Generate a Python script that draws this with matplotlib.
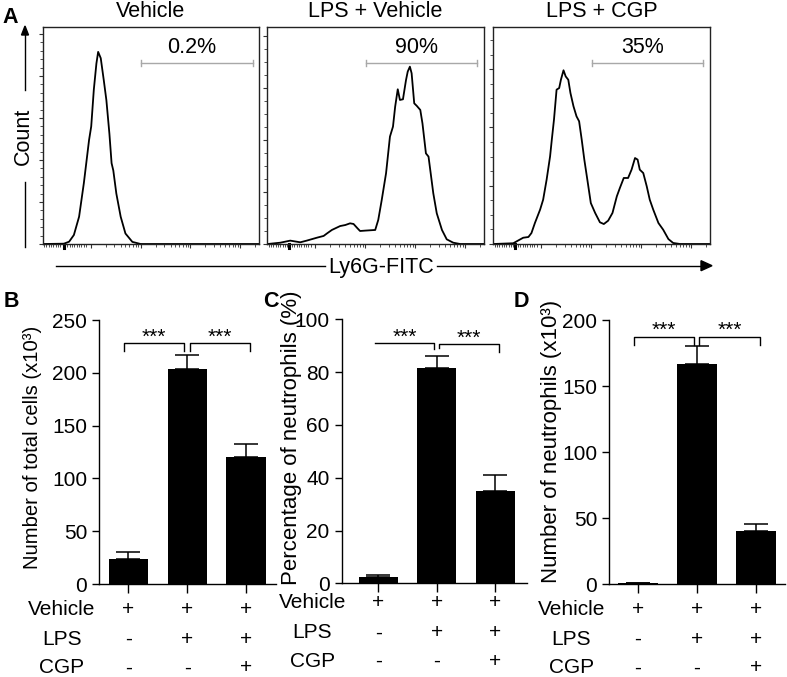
import numpy as np
import matplotlib
matplotlib.use("Agg")
import matplotlib.pyplot as plt
from matplotlib.lines import Line2D
from matplotlib.patches import Polygon
from matplotlib.transforms import blended_transform_factory

plt.rcParams['font.family'] = ['Liberation Sans', 'DejaVu Sans']
plt.rcParams['font.size'] = 15

# --- Flow histograms (x: log fluorescence units, y: events) ---
HIST_TITLES = ["Vehicle", "LPS + Vehicle", "LPS + CGP"]
GATE_LABELS = ["0.2%", "90%", "35%"]
GATE_RANGE = (2.27, 4.85)

VEH_X = [0.03, 0.49, 0.61, 0.72, 0.84, 0.95, 1.07, 1.12, 1.18, 1.24, 1.28, 1.34,
         1.41, 1.47, 1.54, 1.59, 1.63, 1.70, 1.80, 1.91, 2.07, 2.26, 5.0]
VEH_Y = [0, 0.3, 2.2, 8.6, 26, 58, 99, 112, 147, 172, 183, 177,
         156, 137, 105, 77, 70, 48, 26, 10, 2, 0, 0]

LPS_X = [0.01, 0.30, 0.53, 0.76, 0.91, 1.15, 1.30, 1.38, 1.49, 1.68, 1.80, 1.91,
         1.99, 2.08, 2.14, 2.26, 2.49, 2.56, 2.64, 2.74, 2.83, 2.90, 2.95, 3.01,
         3.06, 3.13, 3.20, 3.24, 3.29, 3.33, 3.39, 3.45, 3.53, 3.58, 3.66, 3.72,
         3.77, 3.83, 3.91, 4.03, 4.14, 4.29, 4.45, 5.0]
LPS_Y = [0, 1.0, 2.6, 1.3, 2.6, 4.9, 6.2, 8.2, 10.8, 13.8, 14.6, 15.9,
         15.4, 12.1, 10.0, 10.3, 10.8, 18.5, 33.8, 54.4, 82.6, 90.3, 105.6, 119,
         110.8, 111.3, 126, 132.6, 136.4, 131.3, 108.2, 106.2, 103.1, 92.8, 69.7, 67.2,
         54.4, 39, 23.6, 10.8, 3.6, 1.0, 0, 0]

CGP_X = [0, 0.46, 0.58, 0.69, 0.81, 0.88, 0.96, 1.08, 1.15, 1.23, 1.31, 1.35,
         1.40, 1.46, 1.52, 1.56, 1.62, 1.67, 1.73, 1.78, 1.85, 1.92, 1.98, 2.04,
         2.10, 2.17, 2.25, 2.35, 2.46, 2.55, 2.65, 2.75, 2.85, 2.92, 3.01, 3.11,
         3.19, 3.27, 3.33, 3.38, 3.46, 3.54, 3.61, 3.69, 3.81, 3.92, 4.04, 4.15,
         4.31, 5.0]
CGP_Y = [0, 0.5, 2.5, 4.3, 4.8, 7.5, 14.4, 23.6, 30.4, 44.1, 60.1, 71.6,
         85.3, 105.9, 107, 112.7, 119.2, 115, 112.7, 103.6, 94.5, 87.6, 84.2, 71.6,
         57.9, 44.1, 28.1, 21.3, 14.9, 13.7, 16, 21.3, 32.7, 38.4, 45.3, 45.3,
         51, 59, 57.9, 51, 48.7, 39.6, 30.4, 23.6, 14.4, 9.8, 3.4, 0.7,
         0, 0]

# --- Bar charts ---
TOTAL_CELLS = [24, 204, 120]
TOTAL_CELLS_ERR = [6, 13, 13]
NEUT_PCT = [2.5, 81.7, 35.1]
NEUT_PCT_ERR = [0.6, 4.5, 6]
NEUT_NUM = [0.6, 166.5, 40.5]
NEUT_NUM_ERR = [0.2, 13.5, 5]

ROW_LABELS = ["Vehicle", "LPS", "CGP"]
ROW_SIGNS = [["+", "+", "+"],
             ["-", "+", "+"],
             ["-", "-", "+"]]

W, H = 787, 677
fig = plt.figure(figsize=(W / 100, H / 100), dpi=100)


def fx(px):
    return px / W


def fy(py):
    return 1 - py / H


def px_axes(left, top, right, bottom):
    return fig.add_axes([fx(left), fy(bottom), (right - left) / W, (bottom - top) / H])


# ---------------- Panel A: histograms ----------------
hist_boxes = [(42.7, 27, 259.3, 244), (267.3, 27, 484, 244), (493.3, 27, 710, 244)]
hist_ymax = [206.7, 166.9, 148.9]
hist_minor = [8, 10, 10]
hist_data = [(VEH_X, VEH_Y), (LPS_X, LPS_Y), (CGP_X, CGP_Y)]

dec0, dec_w = 1.106, 1.152
x_major = [dec0 + k * dec_w for k in range(4)]
x_minor = list(np.arange(0.03, 1.02, 0.054))
for k in range(4):
    for m in range(2, 10):
        p = dec0 + (k + np.log10(m)) * dec_w
        if p < 5:
            x_minor.append(p)

for i, ax in enumerate(px_axes(*b) for b in hist_boxes):
    xs, ys = hist_data[i]
    ax.plot(xs, ys, color='black', lw=1.3)
    ax.set_xlim(0, 5)
    ax.set_ylim(0, hist_ymax[i])
    ax.set_yticks(np.arange(0, hist_ymax[i], 40))
    ax.set_yticks(np.arange(0, hist_ymax[i], hist_minor[i]), minor=True)
    ax.set_xticks(x_major)
    ax.set_xticks(x_minor, minor=True)
    ax.tick_params(which='major', length=3, width=0.8, direction='out',
                   labelleft=False, labelbottom=False, color='#333333')
    ax.tick_params(which='minor', length=2, width=0.6, direction='out', color='#333333')
    for s in ax.spines.values():
        s.set_linewidth(1.0)
        s.set_color('#222222')
    trans = blended_transform_factory(ax.transData, ax.transAxes)
    # zero marker on the axis
    ax.plot([0.5, 0.5], [0, -0.018], transform=trans, color='black', lw=2.2, clip_on=False)
    # gate
    g0, g1 = GATE_RANGE
    ax.plot([g0, g1], [0.834, 0.834], transform=trans, color='#a8a8a8', lw=1.0)
    for g in (g0, g1):
        ax.plot([g, g], [0.822, 0.846], transform=trans, color='#a8a8a8', lw=1.0)
    ax.text((g0 + g1) / 2 - 0.12, 0.882, GATE_LABELS[i], transform=trans,
            ha='center', va='baseline', fontsize=15.5)
    fig.text(fx((hist_boxes[i][0] + hist_boxes[i][2]) / 2), fy(16.7), HIST_TITLES[i],
             ha='center', va='baseline', fontsize=15.5)

# Count arrow
fig.add_artist(Line2D([fx(25), fx(25)], [fy(247), fy(182)], color='black', lw=1.0))
fig.add_artist(Line2D([fx(25), fx(25)], [fy(90), fy(34)], color='black', lw=1.0))
fig.add_artist(Polygon([(fx(25), fy(26)), (fx(21.5), fy(35)), (fx(28.5), fy(35))],
                       closed=True, color='black', transform=fig.transFigure))
fig.text(fx(23.5), fy(136), "Count", rotation=90, ha='center', va='center', fontsize=15.5)

# Ly6G-FITC arrow
fig.add_artist(Line2D([fx(56), fx(325)], [fy(265.7), fy(265.7)], color='black', lw=1.0))
fig.add_artist(Line2D([fx(437), fx(702)], [fy(265.7), fy(265.7)], color='black', lw=1.0))
fig.add_artist(Polygon([(fx(712), fy(265.7)), (fx(701), fy(260.7)), (fx(701), fy(270.7))],
                       closed=True, color='black', transform=fig.transFigure))
fig.text(fx(381), fy(272.5), "Ly6G-FITC", ha='center', va='baseline', fontsize=15.5)

# ---------------- Panels B-D: bar charts ----------------
bar_panels = [
    dict(box=(99, 320, 275.5, 584), xlim=(-0.5, 2.5), ylim=250, step=50,
         vals=TOTAL_CELLS, errs=TOTAL_CELLS_ERR,
         ylabel="Number of total cells (x10³)", ylabel_pos=(33, 447.5), ylabel_size=14.6,
         brackets=[(-0.07, 0.95, 228, 220.7, 220.7), (1.04, 2.07, 228, 220.7, 220.7)],
         rows=(615, 645, 673.3)),
    dict(box=(341.5, 319.3, 527, 583.3), xlim=(-0.63, 2.54), ylim=100, step=20,
         vals=NEUT_PCT, errs=NEUT_PCT_ERR,
         ylabel="Percentage of neutrophils (%)", ylabel_pos=(291, 438), ylabel_size=16,
         brackets=[(-0.06, 0.95, 90.9, 90.9, 88.6), (1.03, 2.06, 90.5, 89.0, 87.7)],
         rows=(608.3, 638.3, 666.7)),
    dict(box=(609, 320, 785, 584), xlim=(-0.49, 2.49), ylim=200, step=50,
         vals=NEUT_NUM, errs=NEUT_NUM_ERR,
         ylabel="Number of neutrophils (x10³)", ylabel_pos=(551, 441), ylabel_size=16,
         brackets=[(-0.06, 0.95, 187.3, 181, 181), (1.04, 2.07, 187.3, 181, 181)],
         rows=(615, 645, 673.3)),
]

x = np.arange(3)
for p in bar_panels:
    ax = px_axes(*p['box'])
    ax.bar(x, p['vals'], width=0.67, color='black', zorder=2)
    ax.errorbar(x, p['vals'], yerr=[np.zeros(3), p['errs']], fmt='none',
                ecolor='black', elinewidth=1.1, capsize=8.4, capthick=1.1, zorder=3)
    ax.set_xlim(*p['xlim'])
    ax.set_ylim(0, p['ylim'])
    ax.set_yticks(np.arange(0, p['ylim'] + 1, p['step']))
    ax.set_xticks(x)
    ax.tick_params(axis='y', length=5, width=1.0, pad=3.5, labelsize=15)
    ax.tick_params(axis='x', length=6.7, width=1.0, labelbottom=False)
    for side in ('top', 'right'):
        ax.spines[side].set_visible(False)
    for side in ('left', 'bottom'):
        ax.spines[side].set_linewidth(1.0)

    for (x0, x1, yb, yl, yr) in p['brackets']:
        ax.plot([x0, x0, x1, x1], [yl, yb, yb, yr], color='black', lw=1.0, clip_on=False)
        ax.text((x0 + x1) / 2, yb + p['ylim'] * 0.002, "***", ha='center', va='baseline',
                fontsize=15)

    fig.text(fx(p['ylabel_pos'][0]), fy(p['ylabel_pos'][1]), p['ylabel'],
             rotation=90, ha='center', va='center', fontsize=p['ylabel_size'])

    tr = blended_transform_factory(ax.transData, fig.transFigure)
    for r, label in enumerate(ROW_LABELS):
        yrow = fy(p['rows'][r])
        ax.text(-1.13, yrow, label, transform=tr, ha='center', va='baseline', fontsize=15)
        for c in range(3):
            ax.text(x[c], yrow, ROW_SIGNS[r][c], transform=tr, ha='center', va='baseline',
                    fontsize=15)

# panel letters
for letter, (lx, ly) in zip("ABCD", [(2, 23.3), (3.3, 307), (263.3, 306.7), (513.3, 306.7)]):
    fig.text(fx(lx), fy(ly), letter, ha='left', va='baseline', fontsize=15.5, fontweight='bold')

fig.savefig("out.png", dpi=100)
